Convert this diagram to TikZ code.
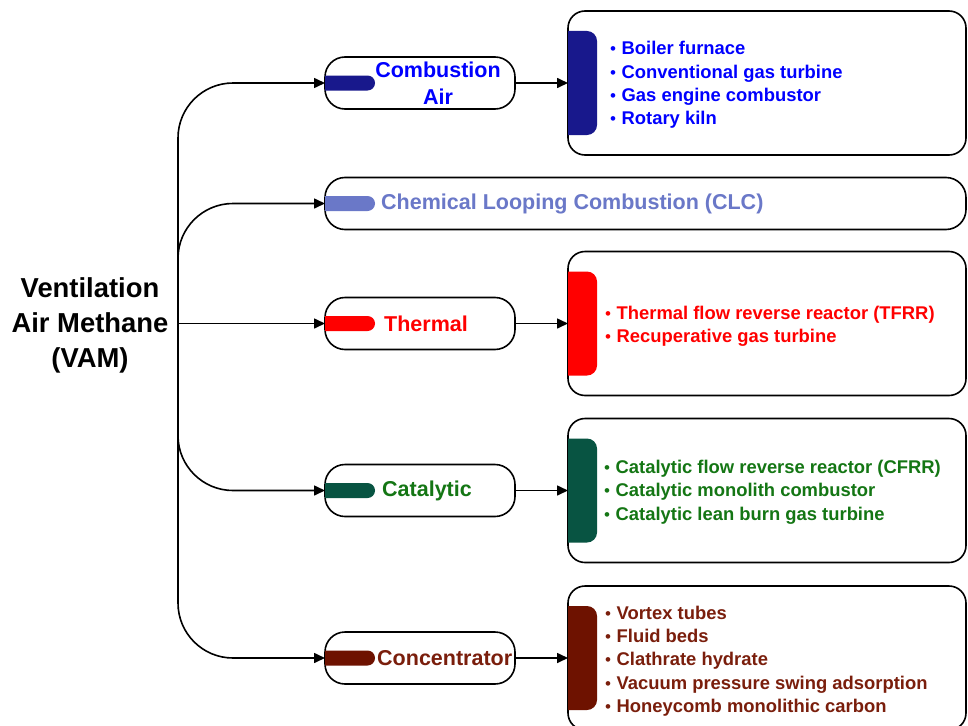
\documentclass[tikz,border=0pt]{standalone}
\usepackage{fontspec}
\setmainfont{Liberation Sans}
\usetikzlibrary{arrows.meta,calc}

\definecolor{combdark}{RGB}{24,24,140}
\definecolor{combtext}{RGB}{0,0,255}
\definecolor{clcdark}{RGB}{106,120,200}
\definecolor{thermred}{RGB}{255,0,0}
\definecolor{catdark}{RGB}{8,84,66}
\definecolor{cattext}{RGB}{20,118,20}
\definecolor{concdark}{RGB}{110,18,0}
\definecolor{conctext}{RGB}{122,30,12}

\tikzset{
  catbox/.style={draw, fill=white, line width=1.6pt, rounded corners=20pt,
    minimum width=190pt, minimum height=52pt, outer sep=0pt, inner sep=0pt},
  listbox/.style={draw, fill=white, line width=1.6pt, rounded corners=17pt,
    minimum width=398pt, minimum height=144pt, outer sep=0pt, inner sep=0pt},
  catlabel/.style={font=\bfseries\fontsize{21.5}{27}\selectfont, align=center, inner sep=0pt},
  itemlist/.style={font=\bfseries\fontsize{18.4}{23.3}\selectfont, align=left,
    inner sep=0pt, anchor=west},
  link/.style={line width=1.6pt, -{Triangle[length=11pt,width=10pt]}},
  branch/.style={link, rounded corners=55pt},
}

% small list bullet
\newcommand{\dotitem}{{\mdseries\fontsize{17}{17}\selectfont•}\hspace{0.3em}}
% coloured tab at the left end of a category box
\newcommand{\tabfill}[2]{%
  \fill[#2] ($(#1.west)+(0,-7.5)$) -- ++(42.5,0)
    arc[start angle=90,end angle=-90,radius=7.5pt] -- ($(#1.west)+(0,7.5)$) -- cycle;}
% coloured bar at the left side of a list box
\newcommand{\barfill}[2]{%
  \fill[#2] ($(#1.north west)+(0,20)$) -- ++(19,0)
    arc[start angle=90,end angle=0,radius=10pt] -- ($(#1.south west)+(29,-30)$)
    arc[start angle=0,end angle=-90,radius=10pt] -- ($(#1.south west)+(0,-20)$) -- cycle;}

\begin{document}
\begin{tikzpicture}[x=1pt, y=-1pt]
  \useasboundingbox (0,0) rectangle (968,725);

  % source
  \node[font=\bfseries\fontsize{27.4}{35}\selectfont, align=center] (vam) at (90,325)
    {Ventilation\\Air Methane\\(VAM)};
  \coordinate (hub) at (178,323.5);

  % categories
  \node[catbox] (comb)  at (420,83)    {};
  \node[catbox, minimum width=641pt] (clc) at (645.5,203.5) {};
  \node[catbox] (therm) at (420,323.5) {};
  \node[catbox] (cat)   at (420,490.5) {};
  \node[catbox] (conc)  at (420,658)   {};

  % lists
  \node[listbox] (combL)  at (767,83)    {};
  \node[listbox] (thermL) at (767,323.5) {};
  \node[listbox] (catL)   at (767,490.5) {};
  \node[listbox] (concL)  at (767,658)   {};

  \tabfill{comb}{combdark}
  \tabfill{clc}{clcdark}
  \tabfill{therm}{thermred}
  \tabfill{cat}{catdark}
  \tabfill{conc}{concdark}

  \barfill{combL}{combdark}
  \barfill{thermL}{thermred}
  \barfill{catL}{catdark}
  \barfill{concL}{concdark}

  \node[catlabel, text=combtext] (combT) at ($(comb.center)+(18,0)$) {Combustion\\Air};
  \node[catlabel, text=clcdark, anchor=west] (clcT) at ($(clc.west)+(56,0)$)
    {Chemical Looping Combustion (CLC)};
  \node[catlabel, text=thermred, anchor=west] (thermT) at ($(therm.west)+(59,0)$) {Thermal};
  \node[catlabel, text=cattext, anchor=west] (catT) at ($(cat.west)+(57,0)$) {Catalytic};
  \node[catlabel, text=conctext, anchor=west] (concT) at ($(conc.west)+(52,0)$) {Concentrator};

  \node[itemlist, text=combtext] (combI) at ($(combL.west)+(42,2)$)
    {\dotitem Boiler furnace\\\dotitem Conventional gas turbine\\
     \dotitem Gas engine combustor\\\dotitem Rotary kiln};
  \node[itemlist, text=thermred] (thermI) at ($(thermL.west)+(37,3)$)
    {\dotitem Thermal flow reverse reactor (TFRR)\\\dotitem Recuperative gas turbine};
  \node[itemlist, text=cattext] (catI) at ($(catL.west)+(36,1.5)$)
    {\dotitem Catalytic flow reverse reactor (CFRR)\\\dotitem Catalytic monolith combustor\\
     \dotitem Catalytic lean burn gas turbine};
  \node[itemlist, text=conctext] (concI) at ($(concL.west)+(37,3)$)
    {\dotitem Vortex tubes\\\dotitem Fluid beds\\\dotitem Clathrate hydrate\\
     \dotitem Vacuum pressure swing adsorption\\\dotitem Honeycomb monolithic carbon};

  % connectors
  \draw[branch] (hub) |- (comb);
  \draw[branch] (hub) |- (clc);
  \draw[link]   (hub) -- (therm);
  \draw[branch] (hub) |- (cat);
  \draw[branch] (hub) |- (conc);

  \draw[link] (comb)  -- (combL);
  \draw[link] (therm) -- (thermL);
  \draw[link] (cat)   -- (catL);
  \draw[link] (conc)  -- (concL);
\end{tikzpicture}
\end{document}
